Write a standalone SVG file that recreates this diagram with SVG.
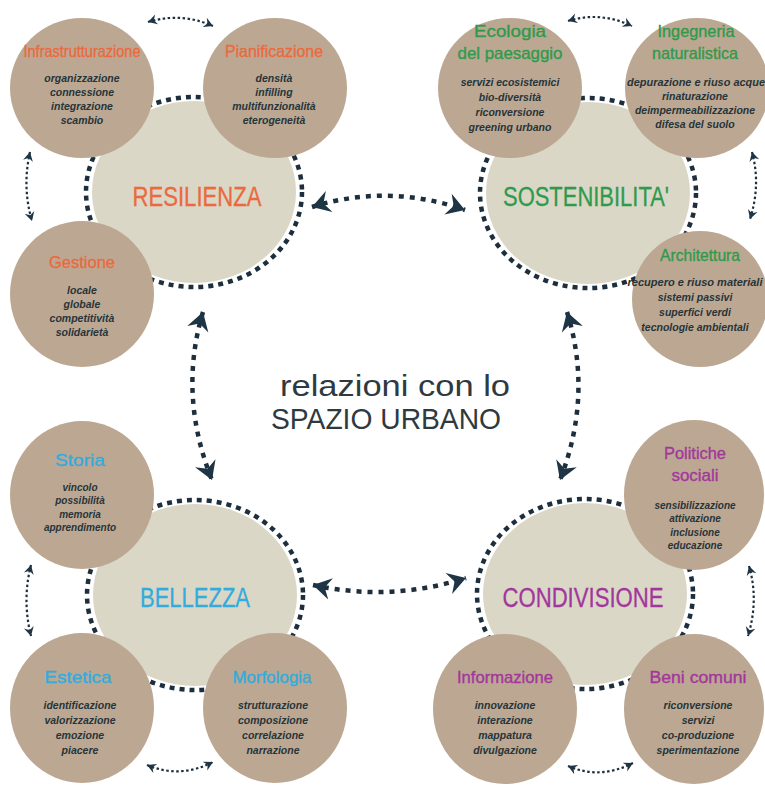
<svg xmlns="http://www.w3.org/2000/svg" width="765" height="787" viewBox="0 0 765 787">
<defs>
<style>
.big{fill:#dad7c7}
.ring{fill:none;stroke:#1d2f3c;stroke-width:4.5;stroke-dasharray:5 5}
.small{fill:#bca892}
.hub{font-family:"Liberation Sans",Arial,sans-serif;font-size:27px;text-anchor:middle}
.ttl{font-family:"Liberation Sans",Arial,sans-serif;font-size:17px;text-anchor:middle;stroke-width:0.35}
.it{font-family:"Liberation Sans",Arial,sans-serif;font-size:10.5px;font-style:italic;font-weight:bold;text-anchor:middle;fill:#27343a}
.sm{font-size:10px}
.or{fill:#ea6a3e;stroke:#ea6a3e}.gr{fill:#2f9a4c;stroke:#2f9a4c}.cy{fill:#33abdc;stroke:#33abdc}.mg{fill:#a3369c;stroke:#a3369c}
.hub.or,.hub.gr,.hub.cy,.hub.mg{stroke-width:0.3}
.arrB{fill:none;stroke:#1d2f3c;stroke-width:4.5;stroke-dasharray:5 6;marker-start:url(#hb);marker-end:url(#hb)}
.arrS{fill:none;stroke:#1d2f3c;stroke-width:2.2;stroke-dasharray:2.5 2.5;marker-start:url(#hs);marker-end:url(#hs)}
.center{font-family:"Liberation Sans",Arial,sans-serif;fill:#2e3a40;text-anchor:middle}
</style>
<marker id="hb" markerUnits="userSpaceOnUse" viewBox="-20 -12 22 24" markerWidth="22" markerHeight="24" refX="0" refY="0" orient="auto-start-reverse"><path d="M0,0 L-18,-11 L-12,0 L-18,11 Z" fill="#1d3544"/></marker>
<marker id="hs" markerUnits="userSpaceOnUse" viewBox="-10 -6 11 12" markerWidth="11" markerHeight="12" refX="0" refY="0" orient="auto-start-reverse"><path d="M0,0 L-9,-5 L-6,0 L-9,5 Z" fill="#1d3544"/></marker>
</defs>
<rect width="765" height="787" fill="#ffffff"/>

<g id="resilienza">
<ellipse class="big" cx="194" cy="192" rx="102" ry="91"/>
<ellipse class="ring" cx="194" cy="192" rx="108" ry="95"/>
<text class="hub or" x="197" y="206" textLength="129" lengthAdjust="spacingAndGlyphs">RESILIENZA</text>
</g>
<g id="sostenibilita">
<ellipse class="big" cx="588" cy="193" rx="102" ry="91"/>
<ellipse class="ring" cx="588" cy="193" rx="108" ry="95"/>
<text class="hub gr" x="586" y="206" textLength="166" lengthAdjust="spacingAndGlyphs">SOSTENIBILITA'</text>
</g>
<g id="bellezza">
<ellipse class="big" cx="195" cy="595" rx="102" ry="91"/>
<ellipse class="ring" cx="195" cy="595" rx="108" ry="95"/>
<text class="hub cy" x="195" y="607" textLength="110" lengthAdjust="spacingAndGlyphs">BELLEZZA</text>
</g>
<g id="condivisione">
<ellipse class="big" cx="585" cy="594" rx="102" ry="91"/>
<ellipse class="ring" cx="585" cy="594" rx="108" ry="95"/>
<text class="hub mg" x="583" y="607" textLength="161" lengthAdjust="spacingAndGlyphs">CONDIVISIONE</text>
</g>

<g id="infrastrutturazione">
<ellipse class="small" cx="82" cy="88" rx="72" ry="70"/>
<text class="ttl or" x="82" y="57" textLength="117" lengthAdjust="spacingAndGlyphs">Infrastrutturazione</text>
<text class="it" x="82" y="82">organizzazione</text>
<text class="it" x="82" y="96">connessione</text>
<text class="it" x="82" y="110">integrazione</text>
<text class="it" x="82" y="124">scambio</text>
</g>
<g id="pianificazione">
<ellipse class="small" cx="275" cy="88" rx="72" ry="70"/>
<text class="ttl or" x="274" y="57" textLength="98" lengthAdjust="spacingAndGlyphs">Pianificazione</text>
<text class="it" x="274" y="82">densità</text>
<text class="it" x="274" y="96">infilling</text>
<text class="it" x="274" y="110">multifunzionalità</text>
<text class="it" x="274" y="124">eterogeneità</text>
</g>
<g id="gestione">
<ellipse class="small" cx="82" cy="294" rx="72" ry="73"/>
<text class="ttl or" x="82" y="268" textLength="66" lengthAdjust="spacingAndGlyphs">Gestione</text>
<text class="it" x="82" y="294">locale</text>
<text class="it" x="82" y="308">globale</text>
<text class="it" x="82" y="322">competitività</text>
<text class="it" x="82" y="336">solidarietà</text>
</g>

<g id="ecologia">
<ellipse class="small" cx="510" cy="88" rx="72" ry="70"/>
<text class="ttl gr" x="510" y="37" textLength="72" lengthAdjust="spacingAndGlyphs">Ecologia</text>
<text class="ttl gr" x="510" y="59" textLength="105" lengthAdjust="spacingAndGlyphs">del paesaggio</text>
<text class="it" x="510" y="86">servizi ecosistemici</text>
<text class="it" x="510" y="101">bio-diversità</text>
<text class="it" x="510" y="116">riconversione</text>
<text class="it" x="510" y="131">greening urbano</text>
</g>
<g id="ingegneria">
<ellipse class="small" cx="697" cy="88" rx="72" ry="70"/>
<text class="ttl gr" x="696" y="37" textLength="77" lengthAdjust="spacingAndGlyphs">Ingegneria</text>
<text class="ttl gr" x="695" y="59" textLength="86" lengthAdjust="spacingAndGlyphs">naturalistica</text>
<text class="it" x="696" y="86" textLength="138" lengthAdjust="spacingAndGlyphs">depurazione e riuso acque</text>
<text class="it" x="695" y="100">rinaturazione</text>
<text class="it" x="695" y="114">deimpermeabilizzazione</text>
<text class="it" x="695" y="128">difesa del suolo</text>
</g>
<g id="architettura">
<ellipse class="small" cx="700" cy="299" rx="68" ry="68"/>
<text class="ttl gr" x="700" y="261" textLength="80" lengthAdjust="spacingAndGlyphs">Architettura</text>
<text class="it" x="695" y="286" textLength="135" lengthAdjust="spacingAndGlyphs">recupero e riuso materiali</text>
<text class="it" x="695" y="301">sistemi passivi</text>
<text class="it" x="695" y="316">superfici verdi</text>
<text class="it" x="695" y="331">tecnologie ambientali</text>
</g>

<g id="storia">
<ellipse class="small" cx="82" cy="495" rx="72" ry="74"/>
<text class="ttl cy" x="80" y="466" textLength="50" lengthAdjust="spacingAndGlyphs">Storia</text>
<text class="it sm" x="80" y="491">vincolo</text>
<text class="it sm" x="80" y="504">possibilità</text>
<text class="it sm" x="80" y="518">memoria</text>
<text class="it sm" x="80" y="531">apprendimento</text>
</g>
<g id="estetica">
<ellipse class="small" cx="82" cy="708" rx="72" ry="75"/>
<text class="ttl cy" x="78" y="683" textLength="67" lengthAdjust="spacingAndGlyphs">Estetica</text>
<text class="it" x="80" y="709">identificazione</text>
<text class="it" x="80" y="724">valorizzazione</text>
<text class="it" x="80" y="739">emozione</text>
<text class="it" x="80" y="754">piacere</text>
</g>
<g id="morfologia">
<ellipse class="small" cx="275" cy="708" rx="72" ry="75"/>
<text class="ttl cy" x="272" y="683" textLength="79" lengthAdjust="spacingAndGlyphs">Morfologia</text>
<text class="it" x="273" y="709">strutturazione</text>
<text class="it" x="273" y="724">composizione</text>
<text class="it" x="273" y="739">correlazione</text>
<text class="it" x="273" y="754">narrazione</text>
</g>

<g id="politiche">
<ellipse class="small" cx="694" cy="495" rx="70" ry="75"/>
<text class="ttl mg" x="695" y="459" textLength="62" lengthAdjust="spacingAndGlyphs">Politiche</text>
<text class="ttl mg" x="695" y="481">sociali</text>
<text class="it sm" x="695" y="509">sensibilizzazione</text>
<text class="it sm" x="695" y="522">attivazione</text>
<text class="it sm" x="695" y="536">inclusione</text>
<text class="it sm" x="695" y="549">educazione</text>
</g>
<g id="informazione">
<ellipse class="small" cx="505" cy="709" rx="72" ry="75"/>
<text class="ttl mg" x="505" y="683" textLength="96" lengthAdjust="spacingAndGlyphs">Informazione</text>
<text class="it" x="505" y="709">innovazione</text>
<text class="it" x="505" y="724">interazione</text>
<text class="it" x="505" y="739">mappatura</text>
<text class="it" x="505" y="754">divulgazione</text>
</g>
<g id="beni-comuni">
<ellipse class="small" cx="694" cy="709" rx="70" ry="75"/>
<text class="ttl mg" x="698" y="683" textLength="97" lengthAdjust="spacingAndGlyphs">Beni comuni</text>
<text class="it" x="698" y="709">riconversione</text>
<text class="it" x="698" y="724">servizi</text>
<text class="it" x="698" y="739">co-produzione</text>
<text class="it" x="698" y="754">sperimentazione</text>
</g>

<g id="spazio-urbano">
<text class="center" x="395" y="396" font-size="30" textLength="230" lengthAdjust="spacingAndGlyphs">relazioni con lo</text>
<text class="center" x="386" y="429" font-size="29" textLength="230" lengthAdjust="spacingAndGlyphs">SPAZIO URBANO</text>
</g>

<g id="connectors">
<path class="arrB" d="M312,207 Q388,183 465,210"/>
<path class="arrB" d="M203,312 Q178,395 212,480"/>
<path class="arrB" d="M567,312 Q593,395 560,480"/>
<path class="arrB" d="M313,585 Q390,602 466,578"/>
<path class="arrS" d="M148,22 Q181,12 213,26"/>
<path class="arrS" d="M568,21 Q600,11 632,26"/>
<path class="arrS" d="M30,152 Q22,187 32,221"/>
<path class="arrS" d="M752,152 Q761,185 750,219"/>
<path class="arrS" d="M31,565 Q22,600 31,636"/>
<path class="arrS" d="M147,765 Q180,779 213,762"/>
<path class="arrS" d="M749,566 Q759,600 748,636"/>
<path class="arrS" d="M568,766 Q600,780 633,763"/>
</g>
</svg>
